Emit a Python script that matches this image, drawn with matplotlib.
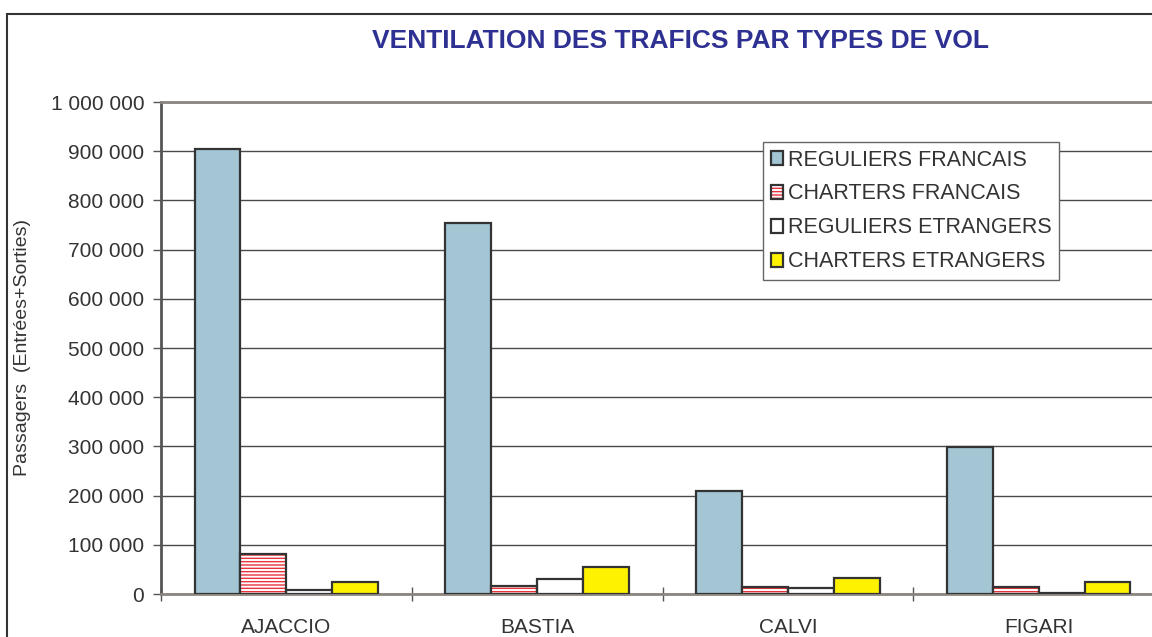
import numpy as np
import matplotlib
matplotlib.use('Agg')
import matplotlib.pyplot as plt
from matplotlib.patches import Rectangle
from matplotlib.ticker import FuncFormatter, FixedLocator

plt.rcParams['font.family'] = ['Liberation Sans', 'DejaVu Sans']
plt.rcParams['hatch.linewidth'] = 1.0

# données
aeroports = ['AJACCIO', 'BASTIA', 'CALVI', 'FIGARI']
series = ['REGULIERS FRANCAIS', 'CHARTERS FRANCAIS', 'REGULIERS ETRANGERS', 'CHARTERS ETRANGERS']
reguliers_fr = [905000, 754000, 209000, 299000]
charters_fr = [82000, 17000, 15000, 14000]
reguliers_etr = [8000, 30000, 13000, 2000]
charters_etr = [24000, 55000, 33000, 24000]

valeurs = [reguliers_fr, charters_fr, reguliers_etr, charters_etr]
couleurs = ['#A3C5D4', 'white', 'white', '#FFF200']
contour = '#333333'

fig = plt.figure(figsize=(11.52, 6.37), dpi=100)
# axe qui deborde a droite comme dans l'original (image recadree)
ax = fig.add_axes([161 / 1152, 1 - 594 / 637, (1164 - 161) / 1152, (594 - 102) / 637])

x = np.arange(len(aeroports))
w = 0.183
handles = []
for i, (nom, val, coul) in enumerate(zip(series, valeurs, couleurs)):
    pos = x + (i - 1.5) * w
    if nom == 'CHARTERS FRANCAIS':
        # hachures rouges puis contour sombre par dessus
        b1 = ax.bar(pos, val, w, color='white', edgecolor='#E8323C', hatch='-----', linewidth=0, zorder=3)
        b2 = ax.bar(pos, val, w, fill=False, edgecolor=contour, linewidth=1.6, zorder=4)
        handles.append((b1[0], b2[0]))
    else:
        b = ax.bar(pos, val, w, color=coul, edgecolor=contour, linewidth=1.6, zorder=3)
        handles.append(b[0])

ax.set_xlim(-0.5, 3.5)
ax.set_ylim(0, 1000000)
ax.set_yticks(np.arange(0, 1000001, 100000))
ax.yaxis.set_major_formatter(FuncFormatter(lambda v, p: f'{int(v):,}'.replace(',', ' ')))
ax.grid(axis='y', color='#4a4a4a', linewidth=1.0, zorder=0)

# etiquettes des categories, ticks entre les groupes
ax.xaxis.set_major_locator(FixedLocator(np.arange(-0.5, 4, 1)))
ax.xaxis.set_minor_locator(FixedLocator(x))
ax.xaxis.set_major_formatter(FuncFormatter(lambda v, p: ''))
ax.set_xticklabels(aeroports, minor=True)
ax.tick_params(axis='x', which='minor', length=0, pad=17, labelsize=15, labelcolor='#333333')
ax.tick_params(axis='x', which='major', direction='inout', length=10, width=1, color='#555555')
ax.tick_params(axis='y', direction='out', length=6, width=1, color='#555555', pad=6,
               labelsize=15, labelcolor='#333333')

for s in ['top', 'bottom']:
    ax.spines[s].set_color('#8C847F')
    ax.spines[s].set_linewidth(2)
ax.spines['left'].set_color('#555555')
ax.spines['left'].set_linewidth(2)
ax.spines['right'].set_visible(False)

ax.set_ylabel('Passagers  (Entrées+Sorties)', fontsize=14, color='#333333')
ax.yaxis.set_label_coords(-0.130, 0.5)

leg = fig.legend(handles, series, loc='upper left', bbox_to_anchor=(763 / 1152, 1 - 142 / 637),
                 borderaxespad=0, fontsize=15.5, frameon=True, fancybox=False, framealpha=1,
                 edgecolor='#666666', handlelength=0.6, handleheight=0.6, handletextpad=0.2,
                 labelspacing=0.6, borderpad=0.35, labelcolor='#333333')
leg.get_frame().set_linewidth(1)

fig.text(680 / 1152, 1 - 41 / 637, 'VENTILATION DES TRAFICS PAR TYPES DE VOL', ha='center', va='center',
         fontsize=19, fontweight='bold', color='#2E3192')

# cadre exterieur du graphique
cadre = Rectangle((7 / 1152, -0.1), 1.2, 1.1 - 14 / 637, transform=fig.transFigure,
                  fill=False, edgecolor='#333333', linewidth=1.5, clip_on=False)
fig.add_artist(cadre)

fig.savefig('out.png', dpi=100)
